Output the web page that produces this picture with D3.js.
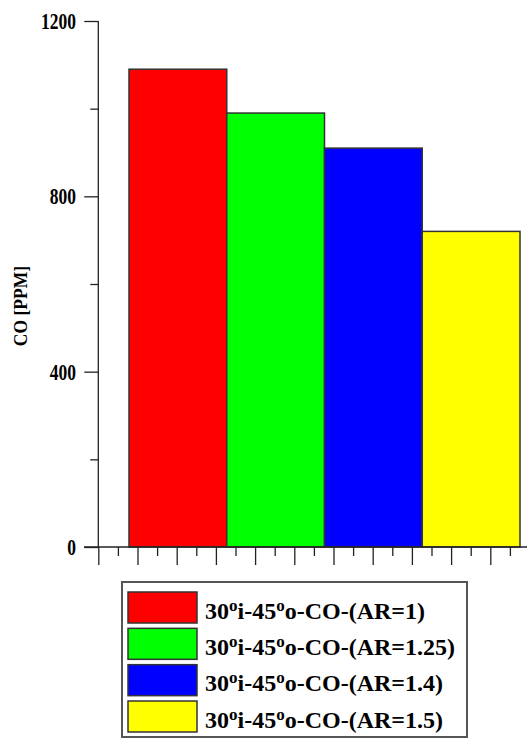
<!DOCTYPE html>
<html>
<head>
<meta charset="utf-8">
<script src="https://cdn.jsdelivr.net/npm/d3@7/dist/d3.min.js"></script>
<style>
  html, body { margin: 0; padding: 0; background: #fff; }
  svg { display: block; }
  text { font-family: "Liberation Serif", "Times New Roman", serif; font-weight: bold; fill: #000; }
</style>
</head>
<body>
<svg id="chart" width="527" height="740"></svg>
<script>
// CO emission for each air ratio case
const categories = ["AR=1", "AR=1.25", "AR=1.4", "AR=1.5"];
const coValues = [1090, 990, 910, 720];
// legend labels split around the raised "o" marks: 30ºi-45ºo-CO-(AR=…)
const legendNames = [
  ["30", "i-45", "o-CO-(AR=1)"],
  ["30", "i-45", "o-CO-(AR=1.25)"],
  ["30", "i-45", "o-CO-(AR=1.4)"],
  ["30", "i-45", "o-CO-(AR=1.5)"]
];
const colors = ["#ff0000", "#00ff00", "#0000ff", "#ffff00"];
const yMajorTicks = [0, 400, 800, 1200];
const yMinorTicks = [200, 600, 1000];
const xTickUnits = d3.range(0, 22);

const svg = d3.select("#chart");

// plot frame
const axisX = 98.3;
const baseY = 547;
const topY = 21;

const y = d3.scaleLinear().domain([0, 1200]).range([baseY, topY]);
const xBand = d3.scaleBand().domain(categories).range([129, 520]).padding(0);
const xTick = d3.scaleLinear().domain([0, 22]).range([axisX, axisX + 22 * 19.6]);

// bars
svg.append("g").selectAll("rect")
  .data(coValues)
  .join("rect")
  .attr("x", (d, i) => xBand(categories[i]))
  .attr("y", d => y(d))
  .attr("width", xBand.bandwidth())
  .attr("height", d => y(0) - y(d))
  .attr("fill", (d, i) => colors[i])
  .attr("stroke", "#333")
  .attr("stroke-width", 1.5);

// y axis: major and minor ticks
const yMajor = svg.append("g").attr("transform", `translate(${axisX},0)`)
  .call(d3.axisLeft(y).tickValues(yMajorTicks).tickSize(14).tickFormat(""));
const yMinor = svg.append("g").attr("transform", `translate(${axisX},0)`)
  .call(d3.axisLeft(y).tickValues(yMinorTicks).tickSize(8).tickFormat(""));
yMinor.select(".domain").remove();
yMajor.select(".domain").attr("d", `M0,${topY}V${baseY}`);
[yMajor, yMinor].forEach(g => {
  g.selectAll("line").attr("stroke", "#222").attr("stroke-width", 1.3);
  g.selectAll(".domain").attr("stroke", "#222").attr("stroke-width", 1.3);
});

// y tick labels (narrow bold serif)
svg.append("g").selectAll("text")
  .data(yMajorTicks)
  .join("text")
  .attr("transform", d => `translate(76,${y(d) + 8}) scale(0.76,1)`)
  .attr("text-anchor", "end")
  .attr("font-size", 23)
  .text(d => d);

// x axis: baseline plus alternating long/short ticks, no labels
svg.append("line")
  .attr("x1", 84).attr("x2", 527)
  .attr("y1", baseY).attr("y2", baseY)
  .attr("stroke", "#222").attr("stroke-width", 1.3);
const xMajor = svg.append("g").attr("transform", `translate(0,${baseY})`)
  .call(d3.axisBottom(xTick).tickValues(xTickUnits.filter(v => v % 2 === 0)).tickSize(18).tickFormat(""));
const xMinor = svg.append("g").attr("transform", `translate(0,${baseY})`)
  .call(d3.axisBottom(xTick).tickValues(xTickUnits.filter(v => v % 2 === 1)).tickSize(9).tickFormat(""));
[xMajor, xMinor].forEach(g => {
  g.select(".domain").remove();
  g.selectAll("line").attr("stroke", "#222").attr("stroke-width", 1.3);
});

// y axis title
svg.append("text")
  .attr("transform", "translate(27,306) rotate(-90) scale(0.9,1)")
  .attr("text-anchor", "middle")
  .attr("font-size", 19.5)
  .text("CO [PPM]");

// legend
const legend = svg.append("g");
legend.append("rect")
  .attr("x", 122).attr("y", 582)
  .attr("width", 345).attr("height", 155)
  .attr("fill", "#fff")
  .attr("stroke", "#555").attr("stroke-width", 2);

const rowY = d3.scaleLinear().domain([0, 3]).range([592, 701]);
const rows = legend.selectAll("g.row")
  .data(legendNames)
  .join("g")
  .attr("class", "row")
  .attr("transform", (d, i) => `translate(0,${rowY(i)})`);

rows.append("rect")
  .attr("x", 128).attr("y", 0)
  .attr("width", 69).attr("height", 31)
  .attr("fill", (d, i) => colors[i])
  .attr("stroke", "#333").attr("stroke-width", 1.5);

const label = rows.append("text")
  .attr("x", 205).attr("y", 26.5)
  .attr("font-size", 24);
label.each(function(parts) {
  const t = d3.select(this);
  t.append("tspan").text(parts[0]);
  t.append("tspan").attr("font-size", 17).attr("dy", -8).text("o");
  t.append("tspan").attr("dy", 8).text(parts[1]);
  t.append("tspan").attr("font-size", 17).attr("dy", -8).text("o");
  t.append("tspan").attr("dy", 8).text(parts[2]);
});
</script>
</body>
</html>
